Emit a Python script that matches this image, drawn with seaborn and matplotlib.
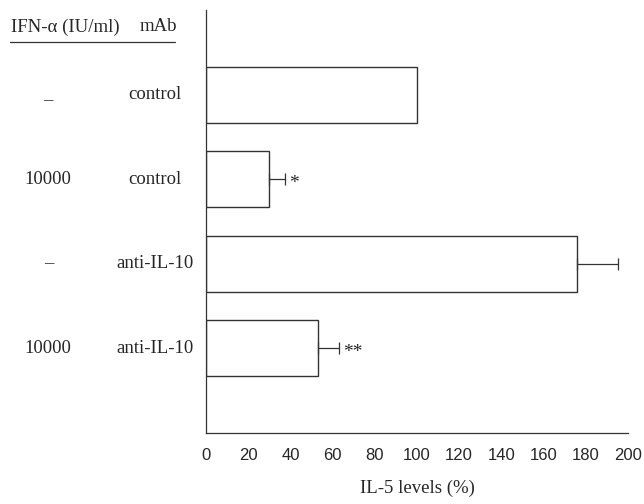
import seaborn as sns
import matplotlib.pyplot as plt
import pandas as pd

# data
rows = ["r1", "r2", "r3", "r4"]
ifn_labels = ["_", "10000", "\u2013", "10000"]
mab_labels = ["control", "control", "anti-IL-10", "anti-IL-10"]
il5 = [100, 30, 176, 53]
il5_err = [0, 7.4, 19.5, 10]
stars = ["", "*", "", "**"]

df = pd.DataFrame({"row": rows, "il5": il5})

sns.set_style("white")
plt.rcParams['font.family'] = ['Liberation Serif', 'DejaVu Serif']

fig = plt.figure(figsize=(6.44, 5.04), dpi=100)
ax = fig.add_axes([0.320, 0.141, 0.655, 0.839])

sns.barplot(data=df, x="il5", y="row", orient="h", color="white",
            edgecolor="#333333", linewidth=1.0, width=0.66, ax=ax)

# one-sided error bars (right side only)
for i, (v, e) in enumerate(zip(il5, il5_err)):
    if e > 0:
        ax.errorbar([v], [i], xerr=[[0], [e]], fmt="none", ecolor="#333333",
                    elinewidth=0.9, capsize=4, capthick=0.9)
    if stars[i]:
        ax.text(v + e + 2, i + 0.05, stars[i], ha="left", va="center", fontsize=14)

ax.set_xlim(0, 200)
ax.set_ylim(4, -1)
ax.set_xticks(range(0, 201, 20))
ax.set_yticks([])
ax.set_ylabel("")
ax.set_xlabel("IL-5 levels (%)", fontsize=13.5, labelpad=12)
for lab in ax.get_xticklabels():
    lab.set_family("Liberation Sans")
    lab.set_fontsize(12)
ax.tick_params(axis="x", direction="out", length=5, width=0.8, color="#333333", pad=6)

sns.despine(ax=ax, top=True, right=True)
ax.spines["left"].set_color("#333333")
ax.spines["bottom"].set_color("#333333")
ax.spines["left"].set_linewidth(0.9)
ax.spines["bottom"].set_linewidth(0.9)

# row labels to the left of the axis
tr = ax.get_yaxis_transform()
for i in range(len(rows)):
    ax.text(-0.374, i, ifn_labels[i], transform=tr, ha="center", va="center", fontsize=13.5)
    ax.text(-0.121, i, mab_labels[i], transform=tr, ha="center", va="center", fontsize=13.5)

# column headers with underline
ax.text(-0.334, -0.80, "IFN-\u03b1 (IU/ml)", transform=tr, ha="center", va="center", fontsize=13.5)
ax.text(-0.114, -0.80, "mAb", transform=tr, ha="center", va="center", fontsize=13.5)
ax.plot([-0.464, -0.073], [-0.62, -0.62], transform=tr, color="#333333", lw=0.9, clip_on=False)

plt.savefig("out.png", dpi=100)
